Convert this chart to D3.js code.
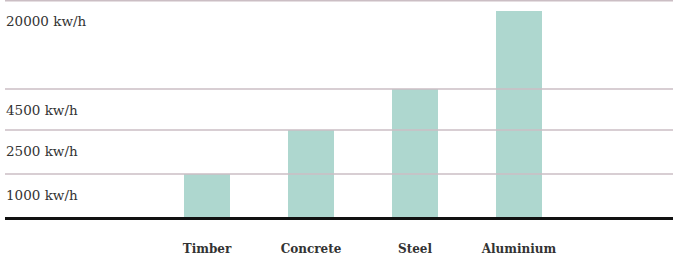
<!DOCTYPE html>
<html>
<head>
<meta charset="utf-8">
<script src="https://cdn.jsdelivr.net/npm/d3@7.9.0/dist/d3.min.js"></script>
<style>
    body { margin: 0; background: #fff; }
    svg { display: block; }
    .tick-label { font-family: "DejaVu Serif", serif; font-size: 13.5px; fill: #333; }
    .cat-label { font-family: "DejaVu Serif", serif; font-size: 12px; font-weight: bold; fill: #333; }
</style>
</head>
<body>
<svg id="chart"></svg>
<script>
const materials = ['Timber', 'Concrete', 'Steel', 'Aluminium'];
const energy = [1000, 2500, 4500, 18200];
const tickValues = [20000, 4500, 2500, 1000];
const tickLabels = ['20000 kw/h', '4500 kw/h', '2500 kw/h', '1000 kw/h'];

const width = 673;
const height = 261;

const svg = d3.select('#chart')
    .attr('width', width)
    .attr('height', height);

// x positions for the bars
const x = d3.scaleBand()
    .domain(materials)
    .range([132, 594])
    .paddingInner(0.5577)
    .paddingOuter(0.5);

// the axis is not linear, each labelled level gets its own segment
const y = d3.scaleLinear()
    .domain([0, 1000, 2500, 4500, 20000])
    .range([217, 174, 130, 89, 0.75]);

svg.append('g')
    .selectAll('rect')
    .data(energy)
    .join('rect')
    .attr('x', (d, i) => x(materials[i]))
    .attr('y', d => y(d))
    .attr('width', x.bandwidth())
    .attr('height', d => y(0) - y(d))
    .attr('fill', '#aed7cf');

// grid lines sit on top of the bars
svg.append('g')
    .selectAll('line')
    .data(tickValues)
    .join('line')
    .attr('x1', 5)
    .attr('x2', width)
    .attr('y1', d => y(d))
    .attr('y2', d => y(d))
    .attr('stroke', '#cbbec4')
    .attr('stroke-width', 1.5);

svg.append('g')
    .selectAll('text')
    .data(tickValues)
    .join('text')
    .attr('class', 'tick-label')
    .attr('x', 6)
    .attr('y', d => y(d) + 25.5)
    .text((d, i) => tickLabels[i]);

// baseline
svg.append('line')
    .attr('x1', 5)
    .attr('x2', width)
    .attr('y1', y(0) + 1.5)
    .attr('y2', y(0) + 1.5)
    .attr('stroke', '#111')
    .attr('stroke-width', 3);

svg.append('g')
    .selectAll('text')
    .data(materials)
    .join('text')
    .attr('class', 'cat-label')
    .attr('x', d => x(d) + x.bandwidth() / 2)
    .attr('y', 253)
    .attr('text-anchor', 'middle')
    .text(d => d);
</script>
</body>
</html>
